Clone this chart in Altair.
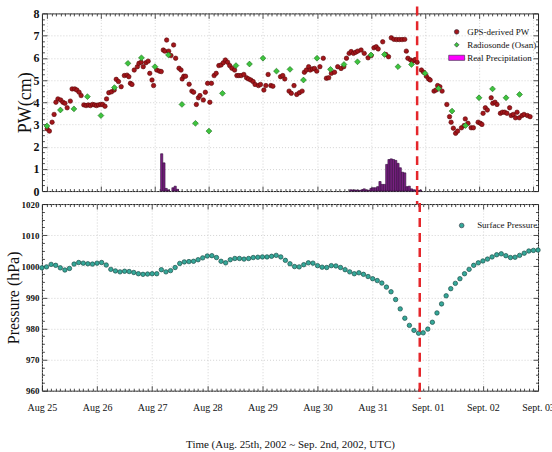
import altair as alt
import pandas as pd

# ---------------------------------------------------------------------------
# Data (time in hours since 2002-08-25 00 UTC)
# ---------------------------------------------------------------------------
day_labels = ["Aug 25", "Aug 26", "Aug 27", "Aug 28", "Aug 29", "Aug 30",
              "Aug 31", "Sept. 01", "Sept. 02", "Sept. 03"]

# GPS-derived precipitable water (cm)
gps_hour = [0.1, 1.1, 2.3, 3.2, 4.0, 4.9, 6.1, 7.1, 8.0, 9.0, 10.4, 11.2, 12.4, 13.3, 14.3, 15.2, 16.4, 17.4, 18.4, 19.3, 20.3, 21.2, 22.0, 22.9, 23.9, 24.8, 25.8,
            26.5, 27.5, 28.7, 29.9, 30.8, 31.8, 33.0, 34.4, 35.6, 36.4, 37.1, 37.8, 38.8, 40.2, 40.9, 41.9, 42.8, 44.0, 45.0, 45.7, 46.7, 47.4, 48.8, 50.0, 50.8,
            51.7, 52.4, 53.2, 54.1, 55.1, 56.3, 57.2, 58.7, 59.6, 60.1, 60.8, 61.6, 63.2, 64.4, 65.2, 66.4, 67.3, 68.0, 69.5, 70.4, 71.4, 72.4, 73.1,
            74.3, 75.2, 76.4, 77.4, 78.4, 79.3, 80.3, 81.2, 82.2, 83.4, 84.4, 85.3, 86.3, 87.5, 88.7, 89.6, 90.6, 91.6, 92.5, 94.0, 94.9, 96.4,
            97.3, 98.3, 99.5, 100.4, 103.8, 104.8, 105.7, 107.6, 108.6, 109.8, 111.0, 112.2, 113.4, 114.4, 115.3, 116.3, 117.0, 118.0, 118.9, 119.9, 121.3, 122.8,
            124.2, 125.2, 126.4, 127.8, 129.2, 130.7, 131.9, 133.1, 134.3, 135.2, 136.2, 137.2, 138.1, 139.6, 141.0, 142.7, 144.1,
            145.3, 146.3, 147.2, 149.2, 150.6, 151.8, 153.0, 154.2, 155.4, 156.6, 157.8, 159.0, 159.7, 160.4, 161.6, 162.6, 163.6, 164.5, 166.4, 167.4,
            168.6, 169.6, 170.3, 172.0, 172.9, 173.6, 174.6, 175.6, 177.7, 178.9, 179.6, 180.6, 181.6, 182.5, 184.2, 185.4, 185.9, 187.1, 188.5, 189.5,
            191.6, 192.6, 193.3, 193.8, 194.8, 195.7, 197.4, 198.1, 199.1, 200.0, 201.5, 202.4, 203.4, 204.4, 205.6, 206.3, 207.2, 208.2, 208.9, 209.9, 211.1, 212.0, 213.5, 214.7]
gps_pw = [2.8, 2.7, 3.1, 3.45, 4.0, 4.15, 4.1, 4.0, 3.95, 3.75, 4.05, 4.6, 4.6, 4.55, 4.45, 4.3, 3.88, 3.85, 3.88, 3.85, 3.9, 3.88, 3.85, 3.88, 3.9, 3.9, 3.82,
          4.15, 4.43, 4.47, 4.55, 5.03, 4.93, 4.7, 5.2, 5.22, 5.15, 4.85, 4.8, 5.45, 5.6, 5.75, 5.8, 5.6, 5.78, 5.85, 5.3, 5.0, 4.75, 5.45, 5.4, 5.38,
          6.35, 6.3, 6.8, 6.3, 6.1, 6.58, 5.98, 5.53, 5.45, 5.05, 5.17, 5.17, 4.81, 4.5, 4.45, 3.9, 4.2, 4.3, 4.1, 4.45, 4.85, 4.0, 4.85,
          5.2, 5.3, 5.65, 5.68, 5.78, 5.9, 5.8, 5.65, 5.53, 5.45, 5.2, 5.2, 5.2, 5.25, 5.1, 5.05, 5.0, 4.93, 4.8, 4.75, 4.8, 4.55,
          4.75, 5.25, 4.75, 4.72, 5.15, 5.2, 5.05, 4.5, 4.4, 4.75, 4.35, 4.43, 4.5, 5.35, 5.45, 5.6, 5.45, 5.5, 5.52, 5.4, 5.6, 5.98,
          5.08, 5.1, 5.3, 5.35, 5.6, 5.52, 5.6, 5.98, 6.2, 6.28, 6.2, 6.25, 6.3, 6.35, 6.2, 6.0, 6.1,
          6.45, 6.5, 6.4, 6.72, 6.15, 6.05, 6.9, 6.83, 6.82, 6.82, 6.82, 6.83, 6.3, 5.98, 5.9, 5.85, 5.92, 5.8, 5.45, 5.35,
          5.17, 5.05, 5.0, 4.5, 4.55, 4.75, 4.7, 4.5, 3.9, 3.35, 3.1, 2.83, 2.6, 2.7, 2.85, 2.95, 3.25, 3.05, 2.85, 2.85,
          3.1, 3.05, 3.0, 3.5, 3.75, 3.65, 4.2, 3.95, 4.0, 3.9, 3.5, 3.55, 3.55, 3.5, 3.75, 3.4, 3.45, 3.3, 3.55, 3.3, 3.4, 3.45, 3.4, 3.35]

# Radiosonde (Osan), six-hourly soundings (cm)
sonde_hour = [0, 6, 12, 18, 24, 30, 36, 42, 48, 54, 60, 66, 72, 78, 84, 90, 96, 102,
              108, 114, 120, 126, 132, 138, 144, 150, 156, 162, 168, 174, 180, 186, 192, 198, 204, 210]
sonde_pw = [2.93, 3.65, 3.7, 4.25, 3.4, 4.66, 5.75, 6.0, 5.6, 6.13, 3.9, 3.05, 2.7, 4.4, 5.65, 5.72, 5.98, 5.4,
            5.48, 5.0, 5.98, 5.48, 5.7, 5.82, 6.13, 6.15, 5.6, 5.7, 5.3, 4.62, 3.6, 2.95, 4.2, 4.6, 4.2, 4.35]

# Hourly observed precipitation
rain_hour = [51, 52, 53, 54, 56, 57, 58,
             135, 136, 137, 138, 139, 140, 141, 142, 143, 144, 145, 146, 147, 148, 149, 150,
             151, 152, 153, 154, 155, 156, 157, 158, 159, 160, 161, 162, 163, 164, 165, 166]
rain_amount = [1.68, 1.27, 0.12, 0.05, 0.15, 0.22, 0.08,
               0.06, 0.05, 0.05, 0.04, 0.03, 0.06, 0.1, 0.05, 0.04, 0.12, 0.15, 0.15, 0.2, 0.43, 0.3, 0.3,
               1.2, 1.42, 1.45, 1.42, 1.38, 1.25, 1.05, 0.85, 0.82, 0.2, 0.22, 0.1, 0.06, 0.05, 0.03, 0.04]

# Surface pressure, two-hourly (hPa)
pressure_hour = list(range(0, 217, 2))
pressure_hpa = [999.5, 999.8, 1000.6, 1000.3, 999.5, 998.8, 999.3, 1000.7, 1001.2, 1001.0, 1000.8, 1000.7,
                1001.0, 1001.2, 1000.4, 999.0, 998.5, 998.2, 998.4, 998.3, 998.0, 997.6, 997.4, 997.5,
                997.6, 997.6, 998.9, 998.2, 998.6, 999.6, 1000.9, 1001.4, 1001.5, 1001.6, 1002.1, 1002.7,
                1003.3, 1003.4, 1002.8, 1001.6, 1001.1, 1002.1, 1002.5, 1002.5, 1002.3, 1002.5, 1002.8, 1002.9,
                1003.0, 1003.0, 1003.2, 1003.5, 1003.0, 1001.9, 1000.8, 999.9, 999.8, 1000.5, 1001.1, 1001.0,
                1000.2, 999.7, 999.6, 1000.2, 1000.1, 999.6, 998.9, 998.2, 997.6, 997.9, 997.4, 996.7,
                996.0, 995.4, 994.6, 993.3, 991.8, 989.3, 986.3, 983.3, 981.0, 979.4, 978.5, 978.6,
                979.8, 982.0, 985.0, 987.9, 990.5, 992.8, 994.5, 996.0, 997.6, 999.0, 1000.3, 1001.1,
                1001.7, 1002.3, 1003.0, 1003.7, 1004.0, 1003.4, 1002.8, 1002.9, 1003.5, 1004.2, 1004.9, 1005.1,
                1005.2]

event_hour = [164.5]  # closest approach marker

top_series = ["GPS-derived PW", "Radiosonde (Osan)", "Real Precipitation"]
top_colors = ["#A3161B", "#3EC43E", "#FF00FF"]
bottom_series = ["Surface Pressure"]
bottom_colors = ["#35A899"]

# ---------------------------------------------------------------------------
# Layout / style
# ---------------------------------------------------------------------------
W, H_TOP, H_BOT, GAP = 497, 178, 187, 13
SERIF = "Liberation Serif"

x_major = [24 * i for i in range(len(day_labels))]
x_minor = list(range(0, 217, 2))
label_expr = "[" + ",".join("'%s'" % s for s in day_labels) + "][round(datum.value / 24)]"
x_scale = alt.Scale(domain=[0, 216], nice=False, zero=False)


def tick_len(test, major, minor):
    return {"condition": {"test": test, "value": major}, "value": minor}


def inward_ticks(data, field, y_scale, y_minor, y_test, height):
    """Two invisible layers whose axes put inward ticks on all four edges."""
    base = alt.Chart(data).mark_point(opacity=0)
    common = dict(labels=False, domain=False, grid=False, title=None, tickColor="#222", tickWidth=0.8)
    a = base.encode(
        x=alt.X("hour:Q", scale=x_scale,
                axis=alt.Axis(orient="top", offset=-height, values=x_minor,
                              tickSize=tick_len("datum.value % 24 === 0", 5, 2.5), **common)),
        y=alt.Y(f"{field}:Q", scale=y_scale,
                axis=alt.Axis(orient="right", offset=-W, values=y_minor,
                              tickSize=tick_len(y_test, 5, 2.5), **common)),
    )
    b = base.encode(
        x=alt.X("hour:Q", scale=x_scale,
                axis=alt.Axis(orient="bottom", offset=-height, values=x_minor,
                              tickSize=tick_len("datum.value % 24 === 0", 5, 2.5), **common)),
        y=alt.Y(f"{field}:Q", scale=y_scale,
                axis=alt.Axis(orient="left", offset=-W, values=y_minor,
                              tickSize=tick_len(y_test, 5, 2.5), **common)),
    )
    return [a, b]


# ---------------------------------------------------------------------------
# Top panel: precipitable water and rainfall
# ---------------------------------------------------------------------------
gps_df = pd.DataFrame({"hour": gps_hour, "value": gps_pw, "series": top_series[0]})
sonde_df = pd.DataFrame({"hour": sonde_hour, "value": sonde_pw, "series": top_series[1]})
rain_df = pd.DataFrame({"hour": rain_hour, "value": rain_amount})
event_df = pd.DataFrame({"hour": event_hour})

pw_scale = alt.Scale(domain=[0, 8], nice=False, zero=False)
top_color = alt.Scale(domain=top_series, range=top_colors)
top_shape = alt.Scale(domain=top_series, range=["circle", "diamond", "M-3.4,-1.1H3.4V1.1H-3.4Z"])
top_legend = alt.Legend(title=None, orient="none", legendX=411, legendY=14, labelOffset=6)

gps = alt.Chart(gps_df).mark_point(filled=True, size=20, opacity=1, stroke="#5A0608", strokeWidth=0.6).encode(
    x=alt.X("hour:Q", scale=x_scale,
            axis=alt.Axis(orient="bottom", values=x_major, labels=False, ticks=False,
                          domain=False, grid=True, title=None)),
    y=alt.Y("value:Q", scale=pw_scale,
            axis=alt.Axis(orient="left", values=list(range(0, 9)), ticks=False, domain=False,
                          grid=True, title="PW(cm)", titleFontSize=18, labelFontSize=12,
                          titleX=-16, titleBaseline="middle")),
    color=alt.Color("series:N", scale=top_color, legend=top_legend),
    shape=alt.Shape("series:N", scale=top_shape, legend=top_legend),
)

sonde = alt.Chart(sonde_df).mark_point(filled=True, size=34, opacity=1, stroke="#1B6A1B", strokeWidth=0.6).encode(
    x=alt.X("hour:Q", scale=x_scale, axis=None),
    y=alt.Y("value:Q", scale=pw_scale, axis=None),
    color=alt.Color("series:N", scale=top_color, legend=top_legend),
    shape=alt.Shape("series:N", scale=top_shape, legend=top_legend),
)

rain = alt.Chart(rain_df).mark_bar(size=2.2, fill="#7A2082", stroke="#2E0838", strokeWidth=0.6).encode(
    x=alt.X("hour:Q", scale=x_scale, axis=None),
    y=alt.Y("value:Q", scale=pw_scale, axis=None),
)

rule_top = alt.Chart(event_df).mark_rule(color="#E5262B", strokeWidth=2.5, strokeDash=[9, 6]).encode(
    x=alt.X("hour:Q", scale=x_scale, axis=None),
    y=alt.value(-7),
    y2=alt.value(H_TOP + GAP),
)

top = alt.layer(
    rain, gps, sonde,
    *inward_ticks(gps_df, "value", pw_scale, [i * 0.25 for i in range(33)], "datum.value % 1 === 0", H_TOP),
    rule_top,
).resolve_axis(x="independent", y="independent").properties(width=W, height=H_TOP)

# ---------------------------------------------------------------------------
# Bottom panel: surface pressure
# ---------------------------------------------------------------------------
pres_df = pd.DataFrame({"hour": pressure_hour, "value": pressure_hpa, "series": bottom_series[0]})
p_scale = alt.Scale(domain=[960, 1020], nice=False, zero=False)

pressure = alt.Chart(pres_df).mark_point(filled=True, size=20, opacity=1, stroke="#1C4E48", strokeWidth=0.7).encode(
    x=alt.X("hour:Q", scale=x_scale,
            axis=alt.Axis(orient="bottom", values=x_major, labelExpr=label_expr, ticks=False,
                          domain=False, grid=True, labelPadding=12, labelFontSize=10,
                          labelFontWeight="normal", labelFlush=False,
                          title="Time (Aug. 25th, 2002 ~ Sep. 2nd, 2002, UTC)",
                          titleFontSize=11, titlePadding=26)),
    y=alt.Y("value:Q", scale=p_scale,
            axis=alt.Axis(orient="left", values=list(range(960, 1021, 10)), format="d",
                          ticks=False, domain=False, grid=True, title="Pressure (hPa)",
                          titleFontSize=16, labelFontSize=9, titleX=-28, titleBaseline="middle")),
    color=alt.Color("series:N", scale=alt.Scale(domain=bottom_series, range=bottom_colors),
                    legend=alt.Legend(title=None, orient="none", legendX=416, legendY=17,
                                      labelOffset=11)),
)

rule_bot = alt.Chart(event_df).mark_rule(color="#E5262B", strokeWidth=2.5, strokeDash=[9, 6]).encode(
    x=alt.X("hour:Q", scale=x_scale, axis=None),
    y=alt.value(-1),
    y2=alt.value(H_BOT + 8),
)

bottom = alt.layer(
    pressure,
    *inward_ticks(pres_df, "value", p_scale, [960 + i * 2.5 for i in range(25)], "datum.value % 10 === 0", H_BOT),
    rule_bot,
).resolve_axis(x="independent", y="independent").properties(width=W, height=H_BOT)

chart = (
    alt.vconcat(top, bottom, spacing=GAP, bounds="flush")
    .resolve_scale(color="independent", shape="independent")
    .resolve_legend(color="independent", shape="independent")
    .properties(padding={"left": 5, "top": 4, "right": -3, "bottom": 0}, background="white")
    .configure_view(stroke="#222", strokeWidth=1)
    .configure_axis(labelFont=SERIF, titleFont=SERIF, labelColor="#111", titleColor="#111",
                    labelFontWeight="bold", titleFontWeight="normal", labelPadding=3,
                    gridColor="#c8c8c8", gridDash=[1, 2], gridWidth=0.8)
    .configure_legend(labelFont=SERIF, labelFontSize=9, labelColor="#111", rowPadding=3,
                      symbolSize=22, symbolStrokeWidth=0.6, symbolStrokeColor="#2A2A3A",
                      padding=0)
)

chart.save("out.html", embed_options={"renderer": "svg", "actions": False})
